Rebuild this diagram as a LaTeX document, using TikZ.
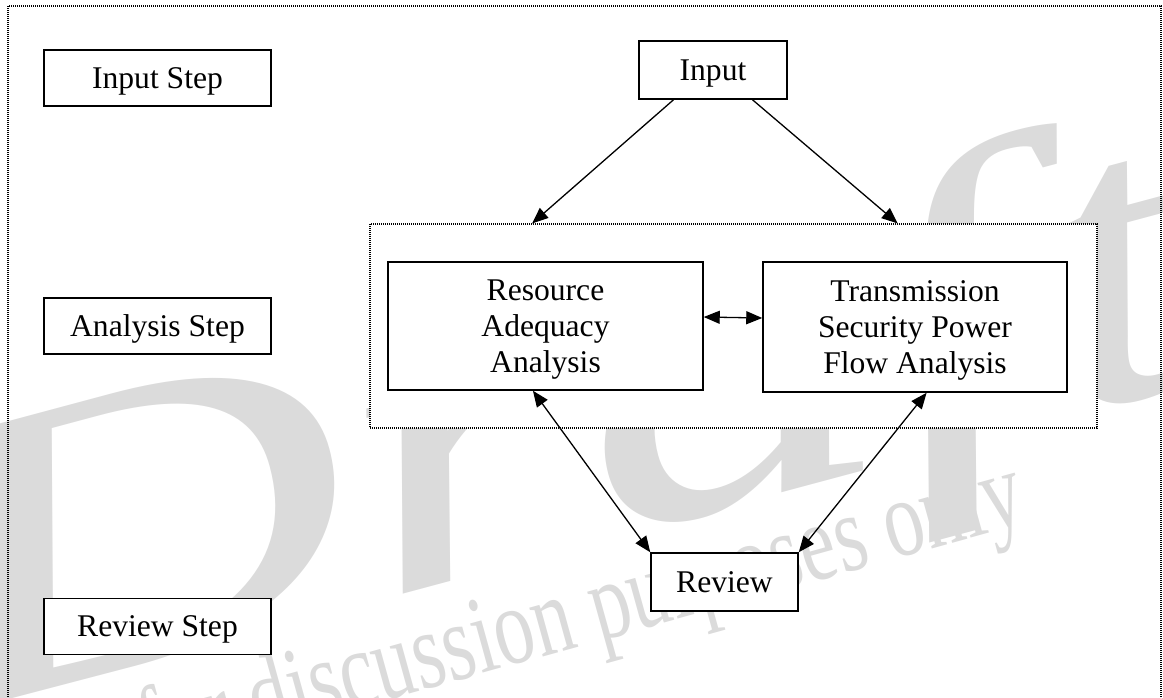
\documentclass[tikz,border=0pt]{standalone}
\usepackage{fontspec}
\setmainfont{Liberation Serif}
\usetikzlibrary{arrows.meta}
\definecolor{wmgray}{gray}{0.86}
\begin{document}
\begin{tikzpicture}[x=0.5pt, y=-0.5pt,
  box/.style={draw, fill=white, line width=0.75pt, align=center, inner sep=0pt, text depth=0pt,
    font=\fontsize{15.8pt}{18pt}\selectfont},
  dots/.style={line width=0.6pt, dash pattern=on 0.5pt off 0.5pt},
  arr/.style={line width=0.65pt, -{Triangle[length=8pt,width=6.5pt]}},
  dbl/.style={line width=0.65pt, {Triangle[length=8pt,width=6.5pt]}-{Triangle[length=8pt,width=6.5pt]}}]
\useasboundingbox (0,0) rectangle (1163,697);
\clip (0,0) rectangle (1163,697);
% watermark
\node[wmgray, rotate=15, anchor=base west, inner sep=0pt,
  font=\fontsize{205pt}{205pt}\selectfont\itshape] (draftmark) at (-44,714) {\scalebox{1.48}[1]{Draft}};
\node[wmgray, rotate=15.5, anchor=base west, inner sep=0pt,
  font=\fontsize{40pt}{40pt}\selectfont] (draftnote) at (149,766) {\scalebox{1}[1.38]{for discussion purposes only}};
% frames
\draw[dots] (8,6) rectangle (1161,720);
\node[dots, draw, fill=white, minimum width=363.5pt, minimum height=102pt] (analysisframe) at (733.5,326) {};
% step column
\node[box, minimum width=113.5pt, minimum height=28pt] (inputstep) at (157.5,78) {Input Step};
\node[box, minimum width=113.5pt, minimum height=28pt] (analysisstep) at (157.5,326) {Analysis Step};
\node[box, minimum width=113.5pt, minimum height=28pt] (reviewstep) at (157.5,626.5) {Review Step};
% flow
\node[box, minimum width=74pt, minimum height=29pt] (input) at (713,70) {Input};
\node[box, minimum width=157.5pt, minimum height=64pt] (resource) at (545.5,326) {Resource\\Adequacy\\Analysis};
\node[box, minimum width=152pt, minimum height=65pt] (transmission) at (915,327) {Transmission\\Security Power\\Flow Analysis};
\node[box, minimum width=73.5pt, minimum height=29pt] (review) at (724.5,582) {Review};
%
\draw[arr] (input.217) -- (analysisframe.153);
\draw[arr] (input.323) -- (analysisframe.32);
\draw[dbl] ([yshift=4.5pt]resource.east) -- ([yshift=4.5pt]transmission.west);
\draw[dbl] (resource.259) -- (review.north west);
\draw[dbl] (transmission.280) -- (review.north east);
\end{tikzpicture}
\end{document}
